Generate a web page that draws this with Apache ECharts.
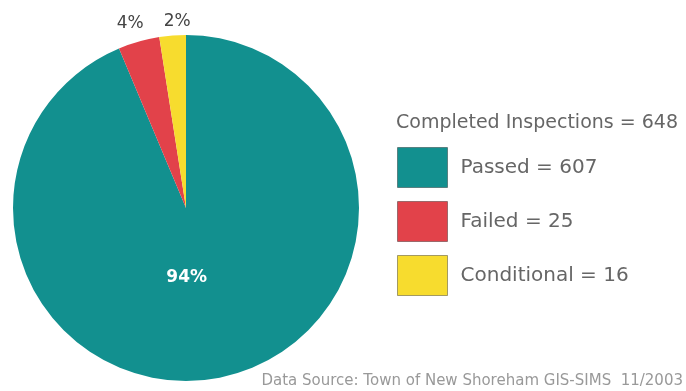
<!DOCTYPE html>
<html><head><meta charset="utf-8">
<script src="https://cdn.jsdelivr.net/npm/echarts@6/dist/echarts.min.js"></script>
<style>html,body{margin:0;padding:0;background:#fff}#c{width:686px;height:391px}</style>
</head><body><div id="c"></div>
<script>
const categories = ['Passed', 'Failed', 'Conditional'];
const values = [607, 25, 16];
const colors = ['#12908f', '#e2424a', '#f7dc2e'];
const titleText = 'Completed Inspections';
const sourceText = 'Data Source: Town of New Shoreham GIS-SIMS  11/2003';

const total = values.reduce((a, b) => a + b, 0);
const FONT = 'DejaVu Sans';
const chart = echarts.init(document.getElementById('c'));
chart.setOption({
  backgroundColor: '#ffffff',
  animation: false,
  title: {
    text: titleText + ' = ' + total,
    left: 396, top: 114, padding: 0,
    textStyle: { fontFamily: FONT, fontSize: 19, fontWeight: 'normal', color: '#666' }
  },
  legend: {
    orient: 'vertical',
    left: 397, top: 147, padding: 0,
    itemWidth: 50, itemHeight: 40, itemGap: 13,
    data: categories,
    icon: 'rect',
    itemStyle: { borderColor: 'rgba(0,0,0,0.35)', borderWidth: 1 },
    formatter: name => name + ' = ' + values[categories.indexOf(name)],
    textStyle: { fontFamily: FONT, fontSize: 20, color: '#666', padding: [8, 0, 0, 8] }
  },
  graphic: [{
    type: 'text', right: 3, top: 374,
    style: { text: sourceText, font: '15px DejaVu Sans', fill: '#999' }
  }],
  series: [{
    type: 'pie',
    center: [186, 208],
    radius: [0, 173],
    startAngle: 90,
    clockwise: true,
    percentPrecision: 0,
    labelLine: { show: false, length: 4, length2: 0 },
    labelLayout: function (p) {
      if (p.dataIndex === 0) return { dx: -17, dy: -18 };
      if (p.dataIndex === 1) return { align: 'center', verticalAlign: 'bottom', dx: 25, dy: -18 };
      return { align: 'center', verticalAlign: 'bottom', dx: 5, dy: -1 };
    },
    data: categories.map((c, i) => ({
      name: c, value: values[i],
      itemStyle: { color: colors[i] },
      label: i === 0
        ? { show: true, position: 'inside', formatter: '{d}%', color: '#fff', fontWeight: 'bold', fontSize: 17, fontFamily: FONT }
        : { show: true, position: 'outside', formatter: '{d}%', color: '#444', fontSize: 17, fontFamily: FONT, distanceToLabelLine: 0 }
    }))
  }]
});
</script></body></html>
